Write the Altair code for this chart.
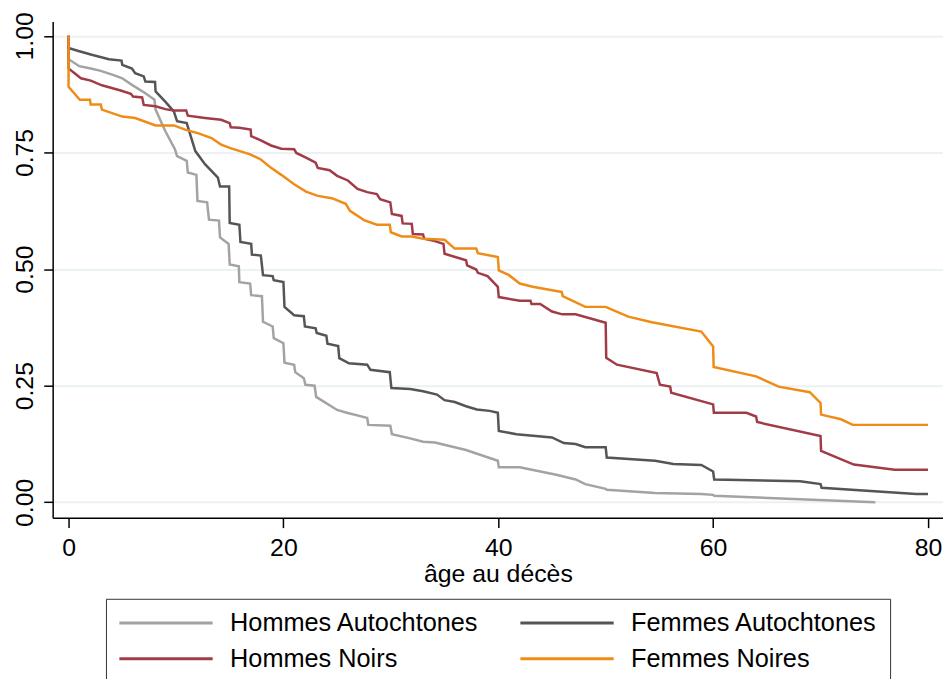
import altair as alt
import pandas as pd

SERIES = ["Hommes Autochtones", "Femmes Autochtones", "Hommes Noirs", "Femmes Noires"]
COLORS = ["#a3a3a3", "#555555", "#a23b48", "#ef8c17"]
# legend fills column by column: this order gives rows (HA, FA) and (HN, FN)
LEGEND_ORDER = [0, 2, 1, 3]
X_TICKS = [0, 20, 40, 60, 80]
Y_TICKS = [0, 0.25, 0.5, 0.75, 1.0]

# (age, survival) points
HA = [(0, 1.0), (0, 0.950), (1.0, 0.935), (2.07, 0.930), (3.0, 0.925), (4.2, 0.916),
      (5.0, 0.909), (5.9, 0.895), (7.15, 0.877), (8.0, 0.863), (8.1, 0.842), (9.0, 0.796),
      (9.9, 0.757), (10.1, 0.742), (11.0, 0.732), (11.1, 0.707), (11.9, 0.702), (12.0, 0.646),
      (12.9, 0.643), (13.07, 0.606), (14.0, 0.604), (14.1, 0.568), (14.9, 0.554), (15.0, 0.510),
      (15.85, 0.506), (15.9, 0.472), (16.9, 0.469), (17.0, 0.444), (18.0, 0.442), (18.1, 0.387),
      (19.0, 0.377), (19.1, 0.352), (20.0, 0.341), (20.1, 0.299), (21.0, 0.295), (21.1, 0.279),
      (21.9, 0.266), (22.05, 0.252), (22.9, 0.250), (23.05, 0.226), (25.0, 0.198), (25.9, 0.192),
      (27.8, 0.181), (27.9, 0.166), (29.95, 0.164), (30.1, 0.146), (31.8, 0.137), (33.0, 0.130),
      (34.1, 0.128), (37.0, 0.112), (39.96, 0.089), (40.05, 0.075), (42.0, 0.075), (45.4, 0.059),
      (47.2, 0.049), (48.1, 0.039), (50.0, 0.029), (50.1, 0.027), (54.6, 0.020), (58.9, 0.018),
      (60.0, 0.016), (60.1, 0.014), (75.1, 0.0)]

FA = [(0, 1.0), (0, 0.974), (1.0, 0.967), (2.07, 0.960), (3.76, 0.950), (4.93, 0.947),
      (5.0, 0.938), (5.9, 0.930), (6.2, 0.920), (7.0, 0.913), (7.15, 0.902), (8.05, 0.901),
      (8.1, 0.881), (9.0, 0.859), (9.8, 0.838), (10.1, 0.817), (11.0, 0.813), (11.8, 0.753),
      (12.7, 0.725), (13.9, 0.696), (14.1, 0.677), (14.95, 0.677), (15.0, 0.599), (15.9, 0.595),
      (16.0, 0.558), (17.0, 0.554), (17.07, 0.531), (17.9, 0.529), (18.1, 0.487), (19.0, 0.485),
      (19.1, 0.476), (20.0, 0.472), (20.1, 0.419), (21.0, 0.401), (21.9, 0.399), (22.0, 0.377),
      (23.0, 0.373), (23.1, 0.363), (24.0, 0.357), (24.1, 0.340), (25.1, 0.335), (25.2, 0.309),
      (26.1, 0.298), (27.8, 0.295), (28.1, 0.284), (29.9, 0.279), (30.05, 0.245), (31.8, 0.243),
      (33.0, 0.238), (34.3, 0.231), (35.0, 0.219), (35.95, 0.215), (37.0, 0.206), (38.0, 0.199),
      (39.2, 0.196), (39.96, 0.192), (40.05, 0.153), (41.7, 0.146), (45.0, 0.139), (46.1, 0.127),
      (47.2, 0.125), (48.1, 0.118), (50.0, 0.118), (50.1, 0.096), (54.6, 0.089), (56.3, 0.082),
      (58.9, 0.080), (60.0, 0.066), (60.1, 0.049), (68.1, 0.045), (70.0, 0.039), (70.1, 0.031),
      (78.9, 0.018), (80.0, 0.018)]

HN = [(0, 1.0), (0, 0.930), (1.15, 0.909), (2.07, 0.904), (3.1, 0.894), (4.85, 0.883),
      (5.8, 0.876), (6.0, 0.870), (6.85, 0.868), (7.0, 0.852), (8.1, 0.849), (9.0, 0.843),
      (9.8, 0.840), (10.95, 0.840), (11.1, 0.829), (12.7, 0.824), (14.2, 0.820), (15.0, 0.813),
      (15.1, 0.804), (15.9, 0.803), (16.95, 0.799), (17.0, 0.785), (17.9, 0.776), (18.85, 0.765),
      (19.8, 0.758), (21.0, 0.757), (21.2, 0.749), (22.1, 0.739), (23.0, 0.728), (23.2, 0.717),
      (24.3, 0.712), (25.0, 0.700), (26.0, 0.690), (26.9, 0.672), (27.8, 0.665), (28.7, 0.661),
      (29.0, 0.650), (29.95, 0.643), (30.1, 0.618), (31.0, 0.614), (31.1, 0.598), (31.95, 0.597),
      (32.05, 0.575), (33.0, 0.574), (33.1, 0.565), (34.1, 0.560), (34.9, 0.554), (35.0, 0.533),
      (37.0, 0.519), (37.1, 0.508), (37.95, 0.499), (38.1, 0.492), (39.0, 0.485), (39.96, 0.462),
      (40.05, 0.440), (42.0, 0.432), (43.0, 0.432), (43.1, 0.425), (43.9, 0.425), (45.0, 0.409),
      (45.96, 0.403), (47.2, 0.403), (50.0, 0.385), (50.05, 0.310), (51.05, 0.295), (54.75, 0.277),
      (55.05, 0.252), (56.0, 0.248), (56.1, 0.235), (60.0, 0.210), (60.07, 0.192), (63.1, 0.192),
      (64.0, 0.184), (64.1, 0.172), (70.0, 0.142), (70.05, 0.110), (73.1, 0.081), (76.9, 0.070),
      (80.0, 0.070)]

FN = [(0, 1.0), (0, 0.891), (1.05, 0.863), (2.0, 0.863), (2.05, 0.853), (3.0, 0.853),
      (3.1, 0.842), (5.0, 0.827), (6.2, 0.824), (8.1, 0.808), (9.8, 0.808), (10.85, 0.799),
      (12.1, 0.791), (13.3, 0.781), (14.2, 0.767), (15.0, 0.760), (16.9, 0.746), (17.9, 0.735),
      (18.85, 0.717), (19.8, 0.702), (21.0, 0.682), (22.1, 0.666), (23.2, 0.657), (24.5, 0.652),
      (25.8, 0.640), (26.2, 0.625), (27.5, 0.605), (28.7, 0.595), (29.9, 0.595), (30.0, 0.579),
      (31.0, 0.570), (31.95, 0.570), (33.0, 0.565), (35.0, 0.563), (35.95, 0.544), (37.95, 0.544),
      (38.1, 0.534), (39.96, 0.526), (40.05, 0.497), (41.0, 0.487), (42.0, 0.469), (43.2, 0.462),
      (45.4, 0.453), (45.9, 0.451), (46.0, 0.442), (48.1, 0.419), (50.0, 0.419), (52.1, 0.398),
      (54.3, 0.386), (58.9, 0.366), (60.0, 0.334), (60.05, 0.290), (64.0, 0.270), (66.1, 0.248),
      (69.0, 0.236), (70.0, 0.213), (70.05, 0.188), (71.9, 0.178), (73.0, 0.166), (80.0, 0.166)]

rows = []
for name, pts in zip(SERIES, [HA, FA, HN, FN]):
    for i, (a, s) in enumerate(pts):
        rows.append({"groupe": name, "i": i, "age": a, "surv": s})
df = pd.DataFrame(rows)

FONT = "Liberation Sans"
dom = [SERIES[k] for k in LEGEND_ORDER]
rng = [COLORS[k] for k in LEGEND_ORDER]

chart = alt.Chart(df).mark_line(strokeWidth=2.5).encode(
    x=alt.X("age:Q",
            scale=alt.Scale(domain=[-1.48, 81.4], nice=False, zero=False),
            axis=alt.Axis(values=X_TICKS, format="d", title="âge au décès",
                          titleFontSize=25, titleFontWeight="normal", titleY=64,
                          titleBaseline="alphabetic",
                          labelFontSize=25, labelPadding=8, tickSize=10, tickWidth=1.5,
                          domainWidth=1.5, grid=False, labelFlush=False)),
    y=alt.Y("surv:Q",
            scale=alt.Scale(domain=[-0.033, 1.031], nice=False, zero=False),
            axis=alt.Axis(values=Y_TICKS, format=".2f", title=None,
                          labelAngle=270, labelAlign="center", labelBaseline="alphabetic",
                          labelPadding=11, labelFontSize=25, tickSize=9, tickWidth=1.5,
                          domainWidth=1.5, grid=True, gridColor="#eaf2f3", gridWidth=2,
                          labelFlush=False, labelOverlap=False)),
    color=alt.Color("groupe:N",
                    scale=alt.Scale(domain=dom, range=rng),
                    legend=alt.Legend(title=None, orient="none", legendX=53.7, legendY=581.7,
                                      columns=2, symbolType="stroke", symbolSize=8836,
                                      symbolStrokeWidth=3, labelFontSize=25.5, labelFont=FONT,
                                      labelColor="black", labelOffset=16, labelLimit=500,
                                      rowPadding=10, columnPadding=40, padding=12,
                                      clipHeight=25, strokeColor="#333333", fillColor="white")),
    order="i:Q",
).properties(
    width=897, height=500,
    autosize=alt.AutoSizeParams(type="none"),
    padding={"left": 45, "top": 11, "right": 0, "bottom": 160},
).configure_view(strokeWidth=0).configure_axis(
    labelFont=FONT, titleFont=FONT, labelColor="black", titleColor="black",
    domainColor="black", tickColor="black",
)

chart.save("out.html", embed_options={"renderer": "svg", "actions": False})
